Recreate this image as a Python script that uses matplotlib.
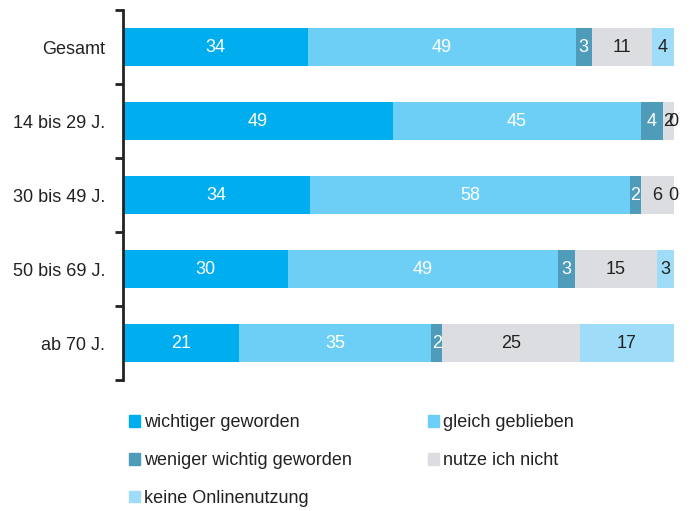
import numpy as np
import matplotlib.pyplot as plt
from matplotlib.patches import Patch

categories = ["Gesamt", "14 bis 29 J.", "30 bis 49 J.", "50 bis 69 J.", "ab 70 J."]
series = ["wichtiger geworden", "gleich geblieben", "weniger wichtig geworden",
          "nutze ich nicht", "keine Onlinenutzung"]
wichtiger = [34, 49, 34, 30, 21]
gleich = [49, 45, 58, 49, 35]
weniger = [3, 4, 2, 3, 2]
nutze_nicht = [11, 2, 6, 15, 25]
keine_online = [4, 0, 0, 3, 17]

colors = ["#00aeef", "#6dcff6", "#4f9bba", "#dcdde0", "#9fdcf7"]
text_colors = ["white", "white", "white", "#222222", "#222222"]

plt.rcParams['font.family'] = ['Liberation Sans', 'DejaVu Sans']

values = np.array([wichtiger, gleich, weniger, nutze_nicht, keine_online], dtype=float)
totals = values.sum(axis=0)
shares = values / totals * 100

fig = plt.figure(figsize=(6.91, 5.11), dpi=100)
ax = fig.add_axes([0.178, 0.256, 0.797, 0.724])

y = np.arange(len(categories))
left = np.zeros(len(categories))
for i, name in enumerate(series):
    ax.barh(y, shares[i], left=left, height=0.52, color=colors[i], label=name)
    for j in range(len(categories)):
        cx = left[j] + shares[i][j] / 2
        ax.text(cx, y[j], f"{int(values[i][j])}", ha="center", va="center",
                fontsize=13, color=text_colors[i])
    left += shares[i]

ax.set_xlim(0, 100)
ax.set_ylim(4.5, -0.5)
ax.set_yticks(y)
ax.set_yticklabels(categories, fontsize=13, color="#222222")
ax.set_yticks(np.arange(-0.5, 5, 1), minor=True)
ax.tick_params(axis="y", which="major", length=0, pad=13)
ax.tick_params(axis="y", which="minor", length=6, width=2, color="#222222")
ax.set_xticks([])
for s in ["top", "right", "bottom"]:
    ax.spines[s].set_visible(False)
ax.spines["left"].set_linewidth(2)
ax.spines["left"].set_color("#222222")

# legend in two columns, placed like the original
def add_legend(idx, x0):
    handles = [Patch(color=colors[k]) for k in idx]
    labels = [series[k] for k in idx]
    leg = fig.legend(handles, labels, loc="upper left", bbox_to_anchor=(x0, 0.189),
                     frameon=False, fontsize=13, handlelength=0.62, handleheight=0.62,
                     handletextpad=0.25, labelspacing=1.15, borderpad=0,
                     borderaxespad=0, labelcolor="#222222")
    return leg

add_legend([0, 2, 4], 0.186)
add_legend([1, 3], 0.619)

fig.savefig("out.png", dpi=100)
